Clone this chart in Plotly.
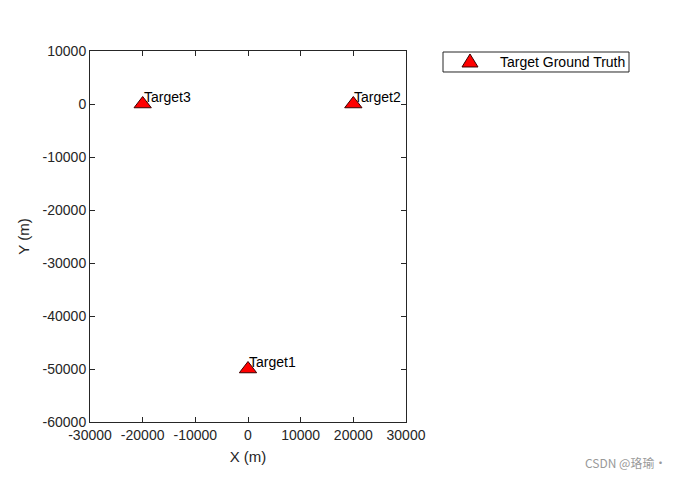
import plotly.graph_objects as go

target_names = ["Target1", "Target2", "Target3"]
target_x = [0, 20000, -20000]
target_y = [-50000, 0, 0]
x_ticks = [-30000, -20000, -10000, 0, 10000, 20000, 30000]
y_ticks = [-60000, -50000, -40000, -30000, -20000, -10000, 0, 10000]
legend_label = "Target Ground Truth"
watermark = "CSDN @珞瑜·"

FONT = "Liberation Sans, Arial, sans-serif"
AX = "#262626"
MARKER_FILL = "red"
MARKER_EDGE = "#3a0000"

fig = go.Figure()
fig.add_trace(go.Scatter(
    x=target_x, y=target_y, mode="markers", name=legend_label, showlegend=False,
    marker=dict(symbol="triangle-up", size=15, color=MARKER_FILL,
                line=dict(color=MARKER_EDGE, width=1)),
))

for n, x, y in zip(target_names, target_x, target_y):
    fig.add_annotation(x=x, y=y, text=n, showarrow=False, xanchor="left",
                       yanchor="middle", yshift=7, xshift=-1,
                       font=dict(family=FONT, size=14, color="black"))

# manual legend box (MATLAB style)
fig.add_shape(type="rect", xref="paper", yref="paper",
              x0=1.1171, x1=1.7057, y0=0.9434, y1=0.9973,
              line=dict(color=AX, width=1), fillcolor="white")
fig.add_shape(type="path", xref="paper", yref="paper",
              xsizemode="pixel", ysizemode="pixel",
              xanchor=1.2025, yanchor=0.9704,
              path="M -8,-5 L 8,-5 L 0,8 Z",
              line=dict(color=MARKER_EDGE, width=1), fillcolor=MARKER_FILL)
fig.add_annotation(xref="paper", yref="paper", x=1.2911, y=0.9704,
                   xanchor="left", yanchor="middle", text=legend_label,
                   showarrow=False, font=dict(family=FONT, size=14, color="black"))

fig.add_annotation(xref="paper", yref="paper", x=(575 - 82) / 316, y=(414 - 454) / 371,
                   xanchor="left", yanchor="middle", text=watermark, showarrow=False,
                   font=dict(family="Noto Sans CJK SC, sans-serif", size=12, color="#999999"))

axis_common = dict(showgrid=False, zeroline=False, showline=True, linecolor=AX,
                   linewidth=1, mirror="ticks", ticks="inside", ticklen=5,
                   tickcolor=AX, tickfont=dict(family=FONT, size=14, color=AX))

fig.update_layout(
    width=674, height=477,
    margin=dict(l=82, r=276, t=43, b=63),
    plot_bgcolor="white", paper_bgcolor="white",
    font=dict(family=FONT, color=AX),
    xaxis=dict(range=[-30000, 30000], tickvals=x_ticks, ticktext=[str(v) for v in x_ticks],
               title=dict(text="X (m)", font=dict(size=15, family=FONT, color=AX), standoff=9),
               **axis_common),
    yaxis=dict(range=[-60000, 10000], tickvals=y_ticks, ticktext=[str(v) for v in y_ticks],
               title=dict(text="Y (m)", font=dict(size=15, family=FONT, color=AX), standoff=9),
               **axis_common),
    showlegend=False,
)

fig.write_html("out.html")
